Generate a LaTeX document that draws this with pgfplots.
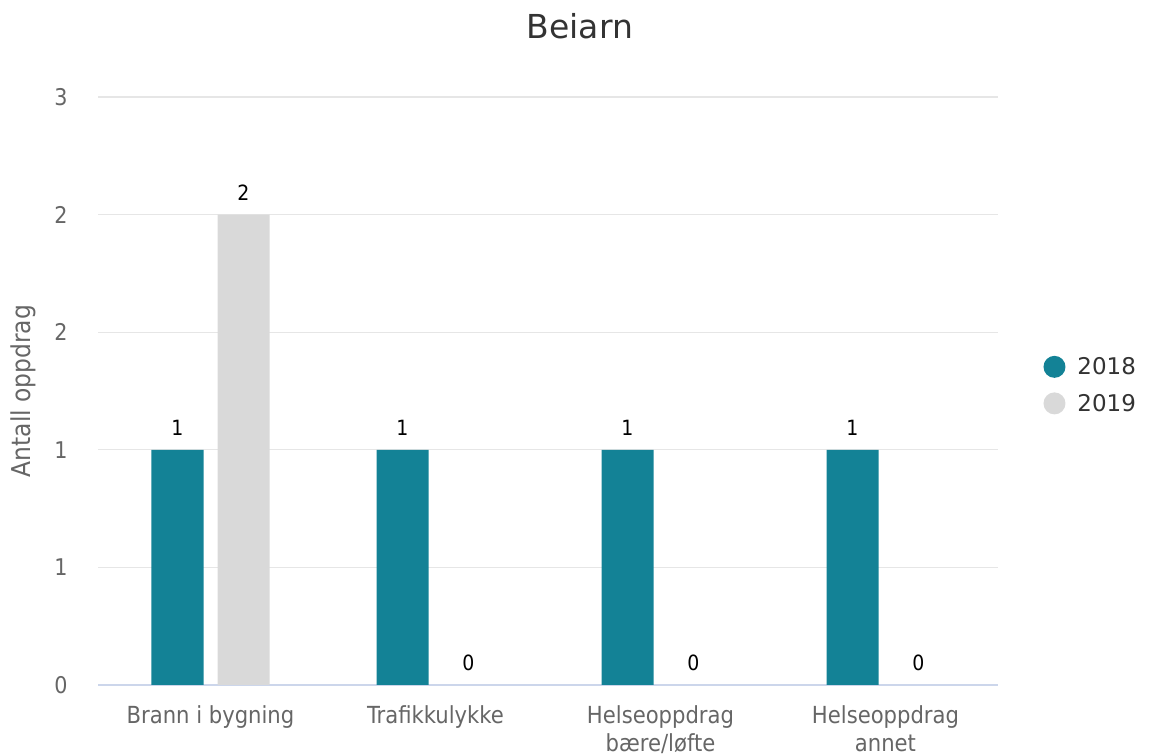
\documentclass[border=0pt]{standalone}
\usepackage{pgfplots}
\pgfplotsset{compat=1.18}
\usepackage{fontspec}
\setmainfont{DejaVu Sans}
\newfontfamily\condfont{DejaVu Sans Condensed}
\definecolor{tealc}{RGB}{19,130,150}
\definecolor{greyc}{RGB}{217,217,217}
\definecolor{gridc}{RGB}{230,230,230}
\definecolor{axisc}{RGB}{204,214,235}
\definecolor{tickc}{RGB}{102,102,102}
\definecolor{titlec}{RGB}{51,51,51}
\begin{document}
\begin{tikzpicture}
\path[use as bounding box] (0,0) rectangle (1149bp,756bp);
\node[font=\fontsize{33bp}{38bp}\selectfont, text=titlec] at (580bp,730bp) {Beiarn};
\begin{axis}[
  at={(98bp,71bp)}, anchor=south west,
  scale only axis, width=900bp, height=588bp,
  xmin=-0.5, xmax=3.5, ymin=0, ymax=2.5,
  axis lines=left, axis line style={-},
  x axis line style={draw=axisc, line width=1.2bp},
  y axis line style={draw=none},
  ymajorgrids, grid style={draw=gridc, line width=1.2bp},
  major tick length=0pt,
  ybar=14bp, bar width=52bp,
  xtick={0,1,2,3},
  xticklabels={Brann i bygning, Trafikkulykke, {Helseoppdrag\\bære/løfte}, {Helseoppdrag\\annet}},
  xticklabel style={align=center, font=\condfont\fontsize{23.5bp}{28bp}\selectfont, text=tickc, yshift=-17bp},
  ytick={0,0.5,1,1.5,2,2.5},
  yticklabels={0,1,1,2,2,3},
  yticklabel style={font=\condfont\fontsize{23bp}{26bp}\selectfont, text=tickc, xshift=-27bp},
  ylabel={Antall oppdrag},
  ylabel style={font=\condfont\fontsize{26bp}{30bp}\selectfont, text=tickc, yshift=12bp},
  nodes near coords={\pgfmathprintnumber[assume math mode=true]{\pgfplotspointmeta}},
  nodes near coords style={font=\condfont\fontsize{21bp}{24bp}\selectfont, text=black, yshift=11bp},
  legend style={at={(1.047,0.51)}, anchor=west, draw=none, fill=none,
    font=\fontsize{23bp}{26bp}\selectfont, text=titlec, row sep=14bp,
    /tikz/every odd column/.append style={column sep=10bp}},
  legend cell align=left,
]
\addplot[fill=tealc, draw=none,
  legend image code/.code={\fill[tealc] (0.35em,0) circle (11bp);}]
  coordinates {(0,1) (1,1) (2,1) (3,1)};
\addplot[fill=greyc, draw=none,
  legend image code/.code={\fill[greyc] (0.35em,0) circle (11bp);}]
  coordinates {(0,2) (1,0) (2,0) (3,0)};
\legend{2018,2019}
\end{axis}
\end{tikzpicture}
\end{document}
